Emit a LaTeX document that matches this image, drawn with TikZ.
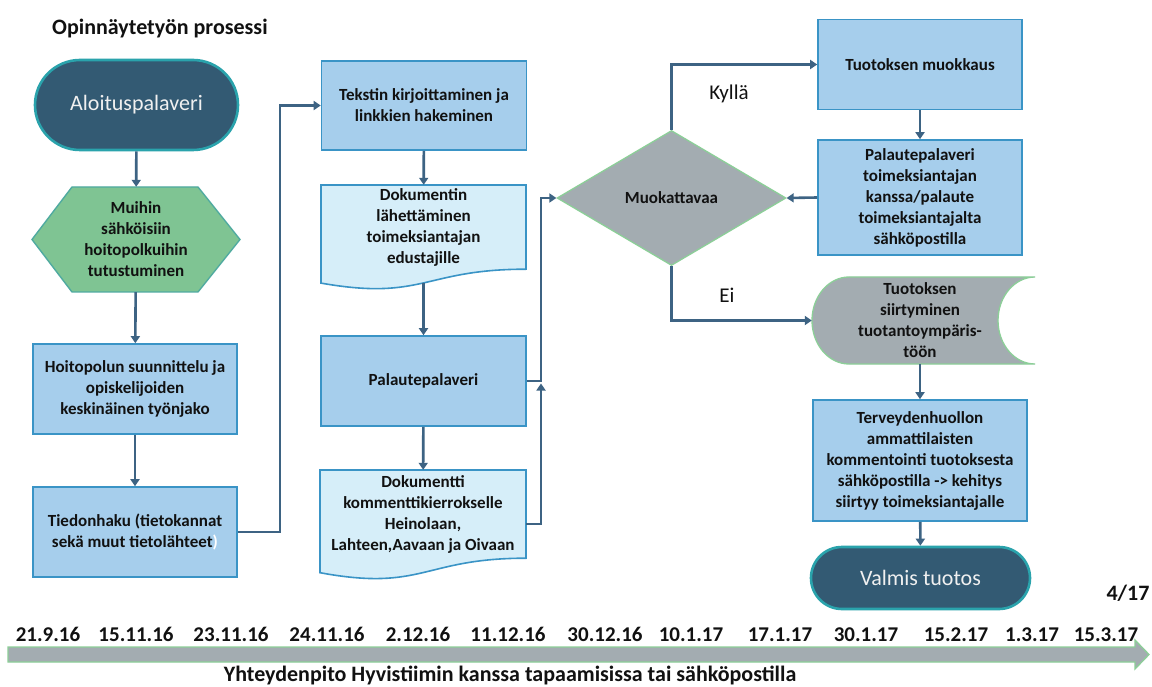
\documentclass[tikz,border=0pt]{standalone}
\usepackage{fontspec}
\setmainfont{Carlito}
\usetikzlibrary{arrows.meta,shapes.geometric}
\definecolor{navy}{HTML}{335A73}
\definecolor{tealb}{HTML}{2AA3AC}
\definecolor{boxfill}{HTML}{A6CEEC}
\definecolor{boxline}{HTML}{3A94C6}
\definecolor{docfill}{HTML}{D6EEF9}
\definecolor{hexfill}{HTML}{7FC493}
\definecolor{hexline}{HTML}{4FAAA0}
\definecolor{grayfill}{HTML}{A3ACB1}
\definecolor{greenline}{HTML}{8CCF98}
\definecolor{conncol}{HTML}{3D6383}
\definecolor{ink}{HTML}{111111}
\begin{document}
\begin{tikzpicture}[x=1pt,y=-1pt,
  txt/.style={font=\fontsize{17}{21}\selectfont\bfseries, align=center, text=ink, inner sep=0pt},
  procbox/.style={txt, rectangle, draw=boxline, fill=boxfill, line width=1.6pt},
  plainnode/.style={txt, rectangle, draw=none},
  terminal/.style={rectangle, draw=tealb, fill=navy, line width=2.6pt, text=white!94!black, font=\fontsize{22}{26}\selectfont, inner sep=0pt},
  docshape/.style={draw=boxline, fill=docfill, line width=1.6pt},
  greenshape/.style={draw=greenline, fill=grayfill, line width=1.3pt},
  conn/.style={draw=conncol, line width=2.6pt, -{Triangle[length=7pt,width=9pt]}},
  datelbl/.style={font=\fontsize{21}{25}\selectfont\bfseries, text=ink, anchor=base, inner sep=0pt},
  branchlbl/.style={font=\fontsize{21}{25}\selectfont, text=ink, anchor=base, inner sep=0pt}
]
\useasboundingbox[fill=white] (0,0) rectangle (1152,687);

% title
\node[font=\fontsize{22}{26}\selectfont\bfseries, text=ink, anchor=base west, inner sep=0pt] (title) at (52,35) {Opinnäytetyön prosessi};

% ---------- column 1 ----------
\node[terminal, rounded corners=45pt, minimum width=203pt, minimum height=90pt] (alo) at (136.5,105) {Aloituspalaveri};

\path[draw=hexline, fill=hexfill, line width=1.4pt] (32,239.5) -- (72,187) -- (198,187) -- (240,239.5) -- (198,292) -- (72,292) -- cycle;
\node[plainnode, minimum width=208pt, minimum height=105pt] (hex) at (136,239.5) {Muihin\\sähköisiin\\hoitopolkuihin\\tutustuminen};

\node[procbox, minimum width=204pt, minimum height=90pt] (hoito) at (135,389) {Hoitopolun suunnittelu ja\\opiskelijoiden\\keskinäinen työnjako};
\node[procbox, minimum width=204pt, minimum height=90pt] (tied) at (135,532) {Tiedonhaku (tietokannat\\sekä muut tietolähteet\textcolor{white}{)}};

% ---------- column 2 ----------
\node[procbox, minimum width=205pt, minimum height=89pt] (teks) at (424,105.5) {Tekstin kirjoittaminen ja\\linkkien hakeminen};

\path[docshape] (321,185) -- (526,185) -- (526,269.2) .. controls (423.5,269.2) and (423.5,301.2) .. (321,283.1) -- cycle;
\node[plainnode, minimum width=205pt, minimum height=84pt] (dok1) at (423.5,227) {Dokumentin\\lähettäminen\\toimeksiantajan\\edustajille};

\node[procbox, minimum width=205pt, minimum height=90pt] (pala) at (423.5,381) {Palautepalaveri};

\path[docshape] (320,470) -- (526,470) -- (526,558.2) .. controls (423,558.2) and (423,591.8) .. (320,572.7) -- cycle;
\node[plainnode, minimum width=206pt, minimum height=88pt] (dok2) at (423,514) {Dokumentti\\kommenttikierrokselle\\Heinolaan,\\Lahteen,Aavaan ja Oivaan};

% ---------- decision ----------
\node[shape=diamond, greenshape, txt, aspect=1.7, minimum width=229pt, minimum height=135pt] (dia) at (671.5,198) {Muokattavaa};

% ---------- column 3 ----------
\node[procbox, minimum width=204pt, minimum height=90pt] (muok) at (920,64.5) {Tuotoksen muokkaus};
\node[procbox, minimum width=204pt, minimum height=115pt] (palt) at (920,197.5) {Palautepalaveri\\toimeksiantajan\\kanssa/palaute\\toimeksiantajalta\\sähköpostilla};

\path[greenshape] (849,277) -- (1035,277) .. controls (1014.6,277) and (998,296.5) .. (998,320.5) .. controls (998,344.5) and (1014.6,364) .. (1035,364) -- (849,364) .. controls (828.6,364) and (812,344.5) .. (812,320.5) .. controls (812,296.5) and (828.6,277) .. (849,277) -- cycle;
\node[plainnode, minimum width=223pt, minimum height=87pt] (siirt) at (923.5,320.5) {\hspace*{-7pt}Tuotoksen\\\hspace*{-7pt}siirtyminen\\\hspace*{-7pt}tuotantoympäris-\\\hspace*{-7pt}töön};

\node[procbox, minimum width=214pt, minimum height=121pt] (terv) at (920,460.5) {Terveydenhuollon\\ammattilaisten\\kommentointi tuotoksesta\\sähköpostilla -> kehitys\\siirtyy toimeksiantajalle};

\node[terminal, rounded corners=31pt, minimum width=219pt, minimum height=62pt] (valm) at (920.5,578) {Valmis tuotos};

% ---------- connectors ----------
\coordinate (c1) at (280,0);
\coordinate (jn) at (541,381);
\coordinate (jt) at (541,383.5);

\draw[conn] (alo) -- (hex);
\draw[conn] (hex) -- (hoito);
\draw[conn] (hoito) -- (tied);
\draw[conn] (tied.east) -- (tied.east -| c1) -- (c1 |- teks.west) -- (teks.west);
\draw[conn] (teks) -- (dok1);
\draw[conn] ([yshift=-14pt]dok1.south) -- (pala);
\draw[conn] (pala) -- (dok2);
\draw[conn] ([yshift=-10pt]dok2.east) -| (jt);
\draw[conn] (pala.east) -- (jn) |- (dia.west);
\draw[conn] (dia.north) |- (muok.west);
\draw[conn] (dia.south) |- (siirt.west);
\draw[conn] (muok) -- (palt);
\draw[conn] (palt.west) -- (dia.east);
\draw[conn] (terv.north |- siirt.south) -- (terv.north);
\draw[conn] (terv) -- (valm);

\node[branchlbl] (kylla) at (729,100) {Kyllä};
\node[branchlbl] (ei) at (727,303) {Ei};

\node[font=\fontsize{22}{26}\selectfont\bfseries, text=ink, anchor=base, inner sep=0pt] (page) at (1128,600) {4/17};

% ---------- timeline ----------
\path[greenshape] (8,647) -- (1135,647) -- (1135,640) -- (1149,654.5) -- (1135,669) -- (1135,662) -- (8,662) -- cycle;
\node[datelbl] (d1) at (48,641) {21.9.16};
\node[datelbl] (d2) at (136,641) {15.11.16};
\node[datelbl] (d3) at (231,641) {23.11.16};
\node[datelbl] (d4) at (327,641) {24.11.16};
\node[datelbl] (d5) at (418,641) {2.12.16};
\node[datelbl] (d6) at (508,641) {11.12.16};
\node[datelbl] (d7) at (605,641) {30.12.16};
\node[datelbl] (d8) at (691,641) {10.1.17};
\node[datelbl] (d9) at (780,641) {17.1.17};
\node[datelbl] (d10) at (866,641) {30.1.17};
\node[datelbl] (d11) at (956,641) {15.2.17};
\node[datelbl] (d12) at (1032,641) {1.3.17};
\node[datelbl] (d13) at (1106,641) {15.3.17};
\node[font=\fontsize{22}{26}\selectfont\bfseries, text=ink, anchor=base, inner sep=0pt] (bottom) at (510,681.5) {Yhteydenpito Hyvistiimin kanssa tapaamisissa tai sähköpostilla};
\end{tikzpicture}
\end{document}
